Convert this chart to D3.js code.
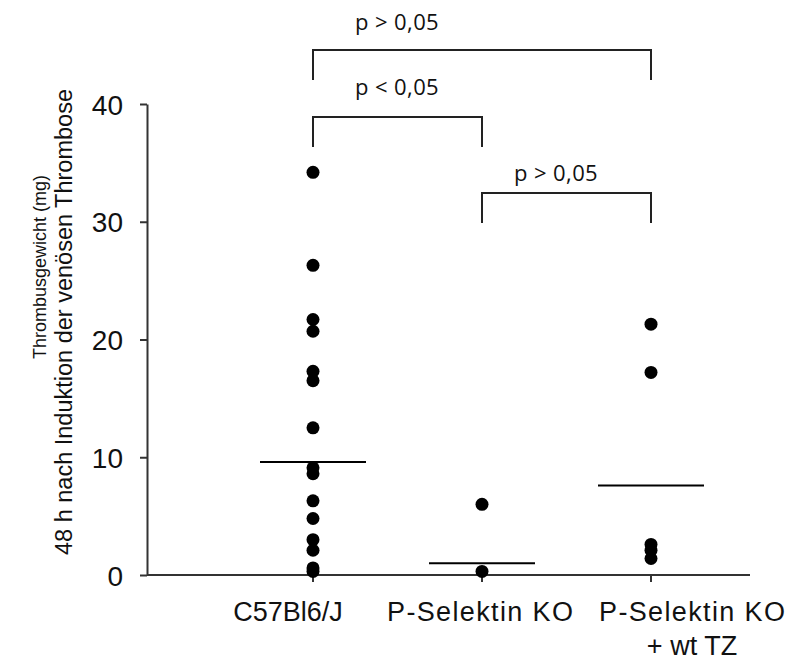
<!DOCTYPE html>
<html>
<head>
<meta charset="utf-8">
<script src="https://cdn.jsdelivr.net/npm/d3@7"></script>
<style>
  html, body { margin: 0; padding: 0; background: #fff; }
  svg { display: block; }
</style>
</head>
<body>
<svg id="chart" width="805" height="660"></svg>
<script>
// Groups and individual thrombus weights (mg)
const groups = ["C57Bl6/J", "P-Selektin KO", "P-Selektin KO + wt TZ"];
const groupLabels = [["C57Bl6/J"], ["P-Selektin KO"], ["P-Selektin KO", "+ wt TZ"]];
const weightsC57 = [34.2, 26.3, 21.7, 20.7, 17.3, 16.5, 12.5, 9.1, 8.6, 6.3, 4.8, 3.0, 2.1, 0.6, 0.3];
const weightsKO = [6.0, 0.3];
const weightsKOwt = [21.3, 17.2, 2.6, 2.1, 1.4];
const groupMeans = [9.6, 1.0, 7.6];
const yTicks = [0, 10, 20, 30, 40];
// Pairwise comparisons: [group A, group B, label]
const comparisons = [
  ["C57Bl6/J", "P-Selektin KO + wt TZ", "p > 0,05"],
  ["C57Bl6/J", "P-Selektin KO", "p < 0,05"],
  ["P-Selektin KO", "P-Selektin KO + wt TZ", "p > 0,05"]
];

const svg = d3.select("#chart");
const axisColor = "#333";
const sans = "Liberation Sans, Arial, sans-serif";

const x = d3.scalePoint().domain(groups).range([313, 651]);
const y = d3.scaleLinear().domain([0, 40]).range([575, 104]);
const xAxisEnd = 750;

// y axis
const yAxis = svg.append("g").attr("transform", "translate(147,0)")
  .call(d3.axisLeft(y).tickValues(yTicks).tickSize(7).tickPadding(17).tickSizeOuter(0));
yAxis.select(".domain").attr("stroke", axisColor).attr("stroke-width", 2);
yAxis.selectAll(".tick line").attr("stroke", axisColor).attr("stroke-width", 2);
yAxis.selectAll(".tick text")
  .attr("font-family", sans)
  .attr("font-size", 28).attr("fill", "#111").attr("dy", "0.36em");

// x axis baseline with group ticks
const xAxis = svg.append("g").attr("transform", `translate(0,${y(0)})`);
xAxis.append("line").attr("x1", 147).attr("x2", xAxisEnd).attr("y1", 0).attr("y2", 0)
  .attr("stroke", axisColor).attr("stroke-width", 2);
xAxis.selectAll("line.tk").data(groups).join("line").attr("class", "tk")
  .attr("x1", d => x(d)).attr("x2", d => x(d)).attr("y1", 0).attr("y2", 7)
  .attr("stroke", axisColor).attr("stroke-width", 2);

// group labels
const labelShift = [-25, -2, 41];
groups.forEach((g, i) => {
  const cx = x(g) + labelShift[i];
  const t = svg.append("text")
    .attr("x", cx).attr("y", 621)
    .attr("text-anchor", "middle")
    .attr("font-family", sans)
    .attr("font-size", 27).attr("fill", "#111");
  groupLabels[i].forEach((line, j) => {
    const ts = t.append("tspan").attr("x", cx).attr("dy", j === 0 ? 0 : 34).text(line);
    if (line === "P-Selektin KO") ts.attr("textLength", 186).attr("lengthAdjust", "spacing");
  });
});

// y axis title (two lines)
svg.append("text")
  .attr("transform", "translate(46,267) rotate(-90)")
  .attr("text-anchor", "middle")
  .attr("font-family", sans)
  .attr("font-size", 18).attr("fill", "#111")
  .text("Thrombusgewicht (mg)");
svg.append("text")
  .attr("transform", "translate(72,322) rotate(-90)")
  .attr("text-anchor", "middle")
  .attr("font-family", sans)
  .attr("font-size", 23.5).attr("fill", "#111")
  .text("48 h nach Induktion der venösen Thrombose");

// group means
svg.selectAll("line.mean").data(groupMeans).join("line").attr("class", "mean")
  .attr("x1", (d, i) => x(groups[i]) - 53).attr("x2", (d, i) => x(groups[i]) + 53)
  .attr("y1", d => y(d)).attr("y2", d => y(d))
  .attr("stroke", "#000").attr("stroke-width", 2);

// individual animals
const points = [weightsC57, weightsKO, weightsKOwt]
  .flatMap((arr, i) => arr.map(v => ({ g: groups[i], v })));
svg.selectAll("circle.pt").data(points).join("circle").attr("class", "pt")
  .attr("cx", d => x(d.g)).attr("cy", d => y(d.v)).attr("r", 6.5).attr("fill", "#000");

// significance brackets
const bracketTop = [50, 117, 193];
const labelOffset = [[42, -20], [42, -22], [32, -12]];
comparisons.forEach(([a, b, txt], i) => {
  const x1 = x(a), x2 = x(b), yt = bracketTop[i];
  svg.append("path")
    .attr("d", `M${x1},${yt + 30}V${yt}H${x2}V${yt + 30}`)
    .attr("fill", "none").attr("stroke", "#222").attr("stroke-width", 2);
  svg.append("text")
    .attr("x", x1 + labelOffset[i][0]).attr("y", yt + labelOffset[i][1])
    .attr("font-family", "Open Sans, sans-serif")
    .attr("font-size", 22).attr("letter-spacing", 0.4).attr("fill", "#111")
    .text(txt);
});
</script>
</body>
</html>
